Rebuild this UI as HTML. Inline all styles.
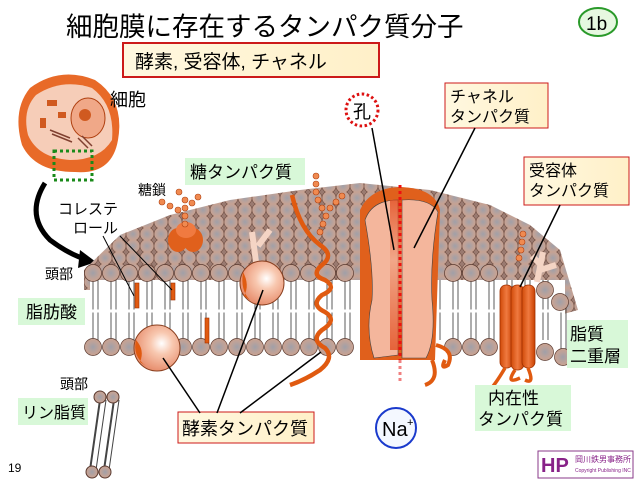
<!DOCTYPE html>
<html><head><meta charset="utf-8"><style>
body{margin:0;background:#fff}
svg{display:block}
text{font-family:"Liberation Sans","Noto Sans CJK JP",sans-serif;fill:#000}
</style></head><body>
<svg width="640" height="480" viewBox="0 0 640 480" xmlns="http://www.w3.org/2000/svg">
<defs>
<radialGradient id="hd" cx="0.5" cy="0.5" r="0.5"><stop offset="0" stop-color="#a0a0a8"/><stop offset="0.6" stop-color="#bca29a"/><stop offset="1" stop-color="#caa290"/></radialGradient>
<pattern id="heads" width="14" height="12" patternUnits="userSpaceOnUse">
<rect width="14" height="12" fill="#9a7a70"/>
<circle cx="7" cy="6" r="7" fill="url(#hd)" stroke="#6a4a40" stroke-width="0.6"/>
</pattern>
<radialGradient id="sph" cx="0.6" cy="0.4" r="0.6"><stop offset="0" stop-color="#fff"/><stop offset="0.4" stop-color="#f8c8b0"/><stop offset="1" stop-color="#e89070"/></radialGradient>
<linearGradient id="cyl" x1="0" x2="1"><stop offset="0" stop-color="#d04a08"/><stop offset="0.5" stop-color="#f07a40"/><stop offset="1" stop-color="#c84000"/></linearGradient>
<linearGradient id="yb" x1="0" x2="1"><stop offset="0" stop-color="#fff8e0"/><stop offset="1" stop-color="#fff0c8"/></linearGradient>
<linearGradient id="pore" x1="0" x2="0" y1="0" y2="1"><stop offset="0" stop-color="#e04010"/><stop offset="0.4" stop-color="#f0a080"/><stop offset="1" stop-color="#e04010"/></linearGradient>
</defs>

<text x="66" y="36" font-size="26.5">細胞膜に存在するタンパク質分子</text>
<ellipse cx="598" cy="22" rx="19" ry="14" fill="#e6f8e0" stroke="#2a9a2a" stroke-width="2"/>
<text x="586" y="30" font-size="19">1b</text>
<rect x="123" y="43" width="256" height="34" fill="url(#yb)" stroke="#cc1a1a" stroke-width="2"/>
<text x="135" y="68" font-size="19">酵素, 受容体, チャネル</text>

<!-- cell -->
<path d="M30,88 Q60,66 95,80 Q125,100 118,140 Q112,175 75,172 Q35,172 22,145 Q12,110 30,88Z" fill="#e86a28"/>
<path d="M36,95 Q62,78 92,88 Q115,105 112,140 Q100,160 70,160 Q38,158 28,135 Q22,110 36,95Z" fill="#f6cdb8"/>
<ellipse cx="88" cy="118" rx="17" ry="20" fill="#f0a888" stroke="#b04010"/>
<circle cx="85" cy="115" r="6" fill="#d05a20"/>
<rect x="47" y="100" width="10" height="6" fill="#d05a20"/><rect x="58" y="112" width="8" height="6" fill="#d05a20"/><rect x="40" y="118" width="6" height="10" fill="#d05a20"/>
<path d="M50,130 l20,8 M52,134 l20,8 M78,138 l10,10 M82,136 l10,10" stroke="#804030" stroke-width="1.5"/>
<rect x="54" y="151" width="38" height="29" fill="none" stroke="#1a8a1a" stroke-width="3" stroke-dasharray="3,3"/>
<text x="110" y="106" font-size="18">細胞</text>
<path d="M45,183 Q25,215 50,240 Q70,255 88,260" fill="none" stroke="#000" stroke-width="5"/>
<polygon points="96,262 80,250 78,268" fill="#000"/>

<!-- membrane top surface -->
<polygon points="84,270 120,235 170,215 230,200 300,190 360,183 430,190 490,205 530,225 560,250 578,310 560,315 540,290 84,290" fill="url(#heads)"/>
<rect x="90" y="280" width="475" height="62" fill="#fff"/>
<g stroke="#333" stroke-width="0.8">
<path d="M93,280v60M98,280v60M111,280v60M116,280v60M129,280v60M134,280v60M147,280v60M152,280v60M165,280v60M170,280v60M183,280v60M188,280v60M201,280v60M206,280v60M219,280v60M224,280v60M237,280v60M242,280v60M255,280v60M260,280v60M273,280v60M278,280v60M291,280v60M296,280v60M309,280v60M314,280v60M327,280v60M332,280v60M345,280v60M350,280v60M363,280v60M368,280v60M381,280v60M386,280v60M399,280v60M404,280v60M417,280v60M422,280v60M435,280v60M440,280v60M453,280v60M458,280v60M471,280v60M476,280v60M489,280v60M494,280v60M507,280v60M512,280v60M525,280v60M530,280v60M543,280v60M548,280v60M561,300v50M566,305v45"/>
</g>
<line x1="90" y1="311" x2="565" y2="311" stroke="#fff" stroke-width="3"/>
<g fill="url(#hd)" stroke="#5a3a30" stroke-width="0.7">
<circle cx="93" cy="273" r="8.5"/><circle cx="111" cy="273" r="8.5"/><circle cx="129" cy="273" r="8.5"/><circle cx="147" cy="273" r="8.5"/><circle cx="165" cy="273" r="8.5"/><circle cx="183" cy="273" r="8.5"/><circle cx="201" cy="273" r="8.5"/><circle cx="219" cy="273" r="8.5"/><circle cx="237" cy="273" r="8.5"/><circle cx="291" cy="273" r="8.5"/><circle cx="309" cy="273" r="8.5"/><circle cx="327" cy="273" r="8.5"/><circle cx="345" cy="273" r="8.5"/><circle cx="453" cy="273" r="8.5"/><circle cx="471" cy="273" r="8.5"/><circle cx="489" cy="273" r="8.5"/><circle cx="545" cy="290" r="8.5"/><circle cx="560" cy="302" r="8.5"/>
<circle cx="93" cy="347" r="8.5"/><circle cx="111" cy="347" r="8.5"/><circle cx="129" cy="347" r="8.5"/><circle cx="183" cy="347" r="8.5"/><circle cx="201" cy="347" r="8.5"/><circle cx="219" cy="347" r="8.5"/><circle cx="237" cy="347" r="8.5"/><circle cx="255" cy="347" r="8.5"/><circle cx="273" cy="347" r="8.5"/><circle cx="291" cy="347" r="8.5"/><circle cx="309" cy="347" r="8.5"/><circle cx="327" cy="347" r="8.5"/><circle cx="345" cy="347" r="8.5"/><circle cx="453" cy="347" r="8.5"/><circle cx="471" cy="347" r="8.5"/><circle cx="489" cy="347" r="8.5"/><circle cx="545" cy="352" r="8.5"/><circle cx="563" cy="357" r="8.5"/>
</g>
<g fill="#e05a10" stroke="#a03000" stroke-width="0.6">
<rect x="135" y="283" width="4" height="25"/><rect x="171" y="283" width="4" height="17"/><rect x="205" y="318" width="4" height="25"/>
</g>
<ellipse cx="178" cy="240" rx="10" ry="12" fill="#e0601c"/><ellipse cx="193" cy="240" rx="10" ry="12" fill="#e0601c"/><ellipse cx="186" cy="230" rx="10" ry="8" fill="#f07a40"/>
<g fill="#f08a50" stroke="#b04010" stroke-width="0.6">
<circle cx="185" cy="224" r="3"/><circle cx="185" cy="216" r="3"/><circle cx="185" cy="208" r="3"/><circle cx="185" cy="200" r="3"/><circle cx="178" cy="210" r="3"/><circle cx="170" cy="206" r="3"/><circle cx="162" cy="202" r="3"/><circle cx="192" cy="203" r="3"/><circle cx="198" cy="197" r="3"/><circle cx="179" cy="192" r="3"/>
<circle cx="320" cy="232" r="3"/><circle cx="323" cy="224" r="3"/><circle cx="326" cy="216" r="3"/><circle cx="330" cy="208" r="3"/><circle cx="336" cy="202" r="3"/><circle cx="342" cy="196" r="3"/><circle cx="322" cy="208" r="3"/><circle cx="318" cy="200" r="3"/><circle cx="316" cy="192" r="3"/><circle cx="316" cy="184" r="3"/><circle cx="316" cy="176" r="3"/>
<circle cx="519" cy="258" r="3"/><circle cx="521" cy="250" r="3"/><circle cx="522" cy="242" r="3"/><circle cx="523" cy="234" r="3"/>
</g>
<path d="M256,262 L252,232 M258,246 L270,230" stroke="#f4d4c4" stroke-width="6" fill="none"/>
<path d="M537,282 L543,252 M540,270 L556,265 M540,264 L532,256" stroke="#f4d4c4" stroke-width="6" fill="none"/>
<circle cx="262" cy="283" r="22" fill="url(#sph)" stroke="#8a4020"/>
<path d="M243,272 Q250,285 244,296 L250,300 Q240,290 243,272Z" fill="#e05a10"/>
<circle cx="157" cy="348" r="23" fill="url(#sph)" stroke="#8a4020"/>
<path d="M136,340 Q145,350 140,362 L146,366 Q132,356 136,340Z" fill="#e05a10"/>
<path d="M292,195 Q300,230 320,245 Q335,255 322,265 Q310,275 325,280 Q338,288 322,295 Q310,305 325,312 Q338,320 322,330 Q310,340 325,348 Q335,358 320,370 Q305,380 290,385" fill="none" stroke="#e05a10" stroke-width="4.5"/>
<path d="M360,210 Q370,188 400,187 Q435,188 440,210 L435,360 L360,360Z" fill="#e0601c"/>
<path d="M365,220 Q372,200 398,200 L398,355 L374,358 Q365,330 372,300 Q374,270 365,220Z" fill="#f4b69c" stroke="#444" stroke-width="0.6"/>
<path d="M402,200 Q430,198 438,212 Q430,260 432,300 Q436,340 426,358 L402,358Z" fill="#f4b69c" stroke="#444" stroke-width="0.6"/>
<rect x="390" y="200" width="12" height="150" fill="url(#pore)" opacity="0.7"/>
<line x1="400" y1="185" x2="400" y2="360" stroke="#ee1010" stroke-width="3" stroke-dasharray="3,3"/>
<line x1="400" y1="360" x2="400" y2="382" stroke="#f08080" stroke-width="3" stroke-dasharray="3,3"/>
<path d="M436,345 Q455,350 448,365 Q440,370 445,360 M432,360 Q440,380 425,385" fill="none" stroke="#e05a10" stroke-width="4"/>
<g fill="url(#cyl)" stroke="#a03000" stroke-width="0.8">
<rect x="500" y="285" width="13" height="83" rx="6"/><rect x="511" y="285" width="13" height="85" rx="6"/><rect x="522" y="285" width="13" height="83" rx="6"/>
</g>
<path d="M505,368 Q495,385 488,392 M515,370 Q505,385 520,378 M528,368 Q535,385 525,380" fill="none" stroke="#e05a10" stroke-width="3.5"/>
<rect x="185" y="158" width="120" height="27" fill="#d8f8d8"/>
<text x="190" y="178" font-size="17">糖タンパク質</text>
<text x="138" y="195" font-size="14">糖鎖</text>
<text x="58" y="214" font-size="15">コレステ</text>
<text x="73" y="233" font-size="15">ロール</text>
<line x1="103" y1="236" x2="134" y2="296" stroke="#000"/>
<line x1="120" y1="236" x2="172" y2="290" stroke="#000"/>
<text x="45" y="279" font-size="14">頭部</text>
<rect x="18" y="298" width="67" height="27" fill="#d8f8d8"/>
<text x="26" y="318" font-size="17">脂肪酸</text>
<text x="60" y="389" font-size="14">頭部</text>
<rect x="18" y="398" width="70" height="27" fill="#d8f8d8"/>
<text x="22" y="418" font-size="16">リン脂質</text>
<line x1="100" y1="400" x2="90" y2="470" stroke="#444" stroke-width="2"/><line x1="106" y1="400" x2="96" y2="470" stroke="#444"/>
<line x1="114" y1="400" x2="104" y2="470" stroke="#444" stroke-width="2"/><line x1="119" y1="400" x2="109" y2="470" stroke="#444"/>
<g fill="url(#hd)" stroke="#5a3a30"><circle cx="100" cy="397" r="6"/><circle cx="113" cy="397" r="6"/><circle cx="92" cy="472" r="6"/><circle cx="105" cy="472" r="6"/></g>
<rect x="178" y="412" width="136" height="31" fill="url(#yb)" stroke="#cc1a1a" stroke-width="1"/>
<text x="182" y="435" font-size="18">酵素タンパク質</text>
<line x1="200" y1="413" x2="163" y2="358" stroke="#000" stroke-width="1.5"/>
<line x1="217" y1="413" x2="263" y2="290" stroke="#000" stroke-width="1.5"/>
<line x1="240" y1="413" x2="321" y2="352" stroke="#000" stroke-width="1.5"/>
<circle cx="362" cy="110" r="16" fill="#fff" stroke="#dd1111" stroke-width="3" stroke-dasharray="2.5,2.5"/>
<text x="353" y="118" font-size="18">孔</text>
<line x1="372" y1="128" x2="394" y2="250" stroke="#000" stroke-width="1.5"/>
<rect x="445" y="83" width="103" height="45" fill="url(#yb)" stroke="#cc1a1a"/>
<text x="450" y="102" font-size="16">チャネル</text>
<text x="450" y="122" font-size="16">タンパク質</text>
<line x1="475" y1="128" x2="414" y2="248" stroke="#000" stroke-width="1.5"/>
<rect x="524" y="157" width="105" height="48" fill="url(#yb)" stroke="#cc1a1a"/>
<text x="529" y="176" font-size="16">受容体</text>
<text x="529" y="196" font-size="16">タンパク質</text>
<line x1="560" y1="205" x2="520" y2="287" stroke="#000" stroke-width="1.5"/>
<rect x="567" y="320" width="61" height="48" fill="#d8f8d8"/>
<text x="570" y="340" font-size="17">脂質</text>
<text x="570" y="362" font-size="17">二重層</text>
<rect x="475" y="385" width="96" height="46" fill="#d8f8d8"/>
<text x="488" y="404" font-size="17">内在性</text>
<text x="478" y="425" font-size="17">タンパク質</text>
<circle cx="396" cy="428" r="20" fill="#f4f8ff" stroke="#1a3acc" stroke-width="2"/>
<text x="382" y="436" font-size="20">Na</text><text x="407" y="426" font-size="11">+</text>
<text x="8" y="472" font-size="12">19</text>
<rect x="538" y="451" width="95" height="27" fill="#fff" stroke="#8a3a8a"/>
<text x="541" y="472" font-size="20" font-weight="bold" style="fill:#882288">HP</text>
<text x="575" y="462" font-size="8" style="fill:#882288">岡川鉄男事務所</text>
<text x="575" y="472" font-size="5" style="fill:#882288">Copyright Publishing INC</text>
</svg>
</body></html>
